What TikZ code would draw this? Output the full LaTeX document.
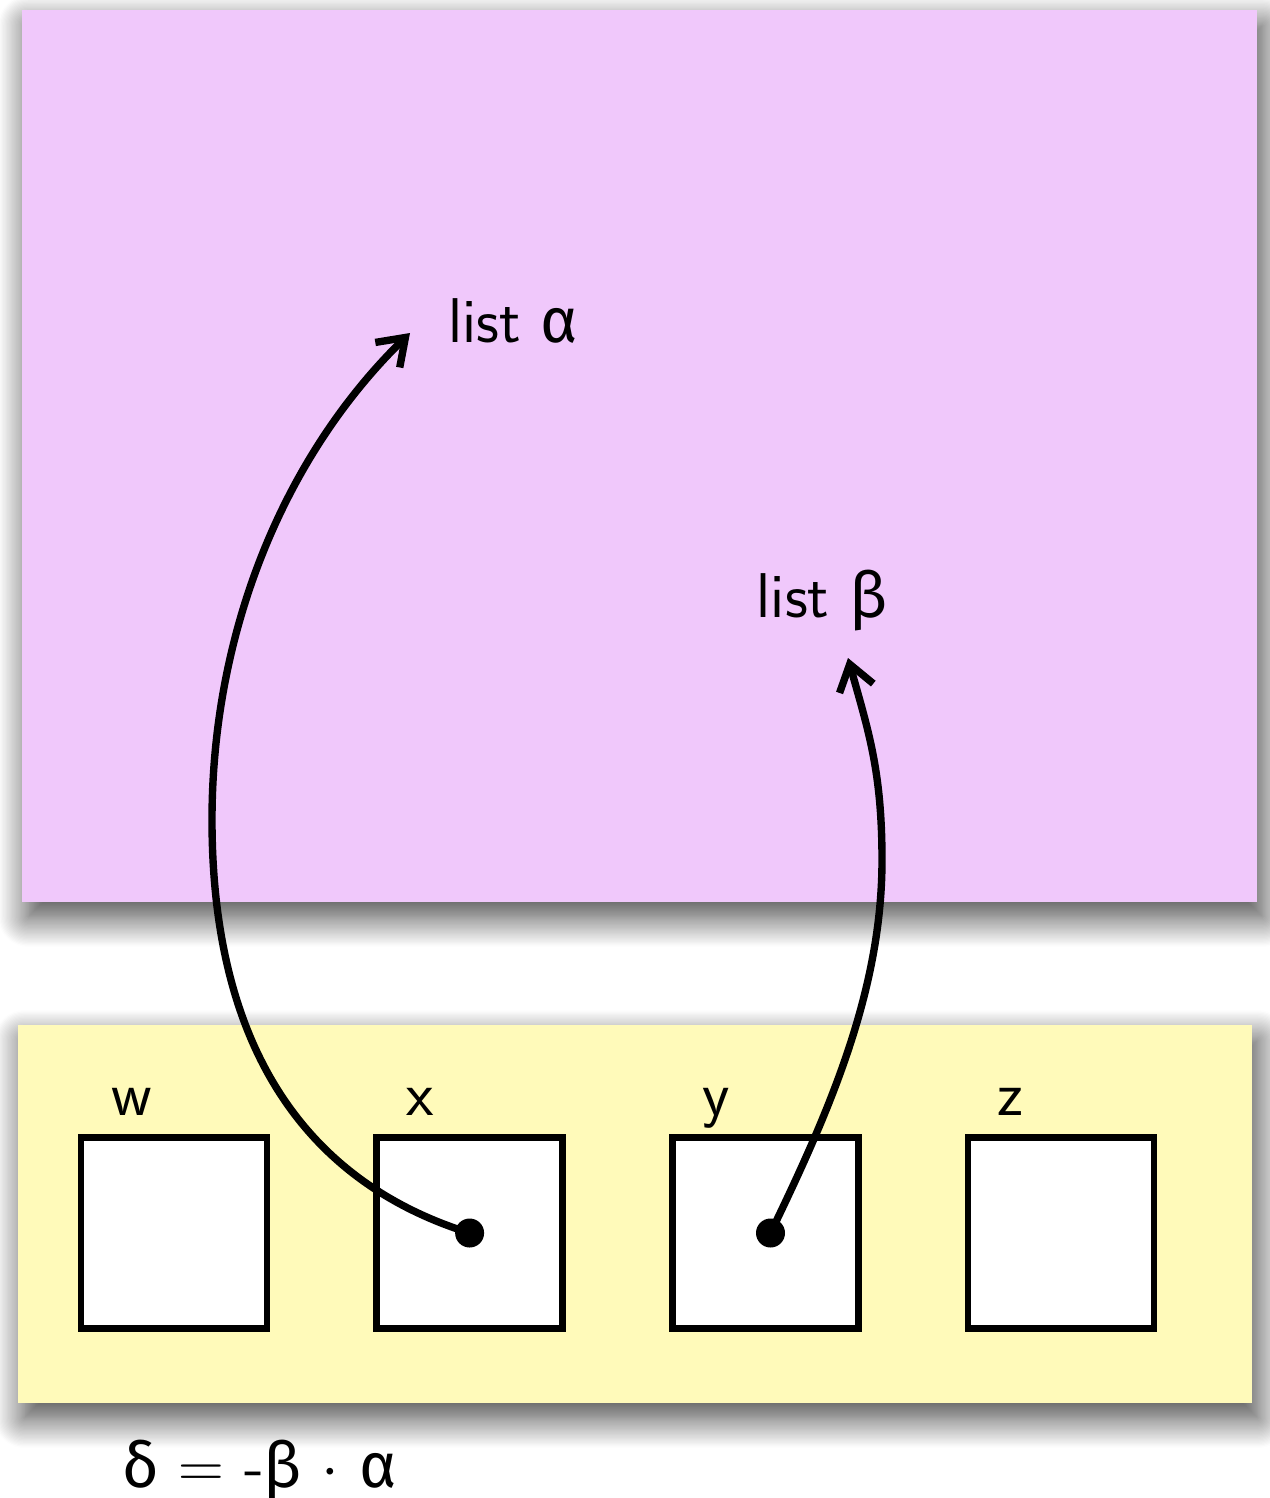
\documentclass[tikz,border=0pt]{standalone}
\usepackage{fontspec}
\newfontfamily\grk{Fira Sans}
\usetikzlibrary{arrows.meta,positioning,shadows.blur}
\definecolor{heapc}{HTML}{F0C8FB}
\definecolor{stackc}{HTML}{FFFABA}

\begin{document}
\begin{tikzpicture}[
  x=0.02cm,y=-0.02cm,
  every node/.style={font=\sffamily\fontsize{36}{40}\selectfont},
  panel/.style={inner sep=0pt,blur shadow={shadow xshift=0.12cm,shadow yshift=-0.3cm,shadow blur radius=0.6cm,shadow opacity=75,shadow blur steps=24}},
  cell/.style={draw,fill=white,line width=3.8pt,minimum width=3.72cm,minimum height=3.82cm,inner sep=0pt},
  lbl/.style={anchor=base west,inner sep=0pt},
  dot/.style={circle,fill,inner sep=0pt,minimum size=0.58cm},
  ptr/.style={-{Straight Barb[length=0.5cm,width=0.7cm]},line width=4.2pt}
]
\useasboundingbox (0,0) rectangle (1269,1498);
% heap and stack frame
\node[panel,fill=heapc,minimum width=24.7cm,minimum height=17.84cm] (heap) at (639.5,456) {};
\node[panel,fill=stackc,minimum width=24.68cm,minimum height=7.56cm] (stack) at (635,1214) {};
% variables
\node[cell] (cw) at (174,1233) {};
\node[cell,right=2.06cm of cw] (cx) {};
\node[cell,right=2.06cm of cx] (cy) {};
\node[cell,right=2.06cm of cy] (cz) {};
\node[lbl] (wl) at ([shift={(33,-19)}]cw.north west) {w};
\node[lbl] (xl) at ([shift={(33,-19)}]cx.north west) {x};
\node[lbl] (yl) at ([shift={(33,-19)}]cy.north west) {y};
\node[lbl] (zl) at ([shift={(33,-19)}]cz.north west) {z};
% lists on the heap
\node[anchor=base,inner sep=0pt] (la) at (513,342) {list {\grk α}};
\node[anchor=base,inner sep=0pt] (lb) at (822,617) {list {\grk β}};
\coordinate (pa) at (410,333);
\coordinate (pb) at (848,658);
% pointers
\draw[ptr] (cx.center) .. controls (300,1180) and (212,1040) .. (212,820)
  .. controls (212,630) and (285,455) .. (pa);
\draw[ptr] ([xshift=3]cy.center) .. controls (830,1110) and (882,990) .. (882,860)
  .. controls (882,770) and (868,730) .. (pb);
\node[dot] (xd) at (cx.center) {};
\node[dot] (yd) at ([xshift=3]cy.center) {};
\node[anchor=base west,inner sep=0pt] (eq) at (122,1487) {{\grk δ} \scalebox{1.45}{$=$} -{\grk β} \scalebox{1.45}{$\cdot$} {\grk α}};
\end{tikzpicture}
\end{document}
